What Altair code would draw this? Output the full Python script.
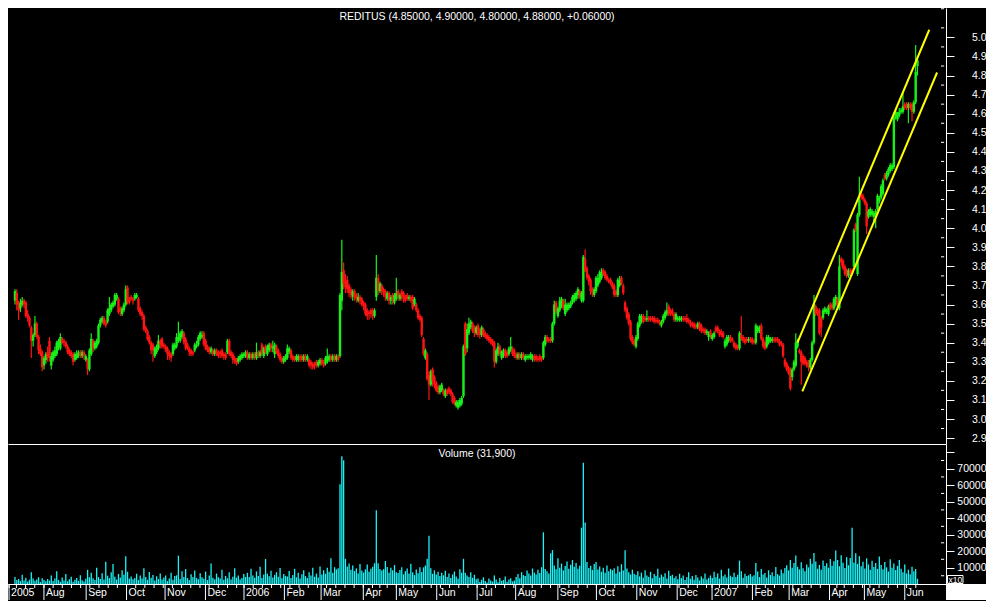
import altair as alt
import pandas as pd

# ---- daily candles per month: (open, close, high, low) in cents, volume (axis units, x10) ----
m0507 = [(362,367,368,360,4200),(366,360,368,357,2500),(361,357,362,352,3100),(358,361,363,356,1800),(360,362,364,359,5600),(362,360,363,358,2200),(361,354,362,353,3800),(355,353,357,351,1500),(353,349,354,348,2600),(348,341,349,332,7200),(341,344,345,338,3300),(344,350,354,343,1900),(350,343,351,342,2800),(343,336,344,334,4100),(337,334,339,333,1200),(335,327,336,325,3500),(328,332,333,326,2400),(331,334,335,329,1600),(335,332,338,330,3000)]
m0508 = [(341,332,343,330,2100),(328,333,335,326,5200),(331,335,336,330,1800),(333,336,338,332,3300),(334,340,341,333,7800),(338,341,342,336,2500),(337,343,345,336,1400),(342,340,343,339,3900),(341,340,342,338,2200),(340,338,341,337,6100),(338,335,339,334,1700),(336,334,337,333,2900),(335,333,336,332,4400),(334,330,335,328,1300),(331,334,335,330,2600),(332,334,336,331,3700),(333,335,336,332,1900),(335,333,336,332,5300),(333,335,336,332,2300),(335,333,336,331,1500),(331,333,334,330,3200),(331,326,332,323,8600),(326,336,337,325,4100)]
m0509 = [(334,342,345,333,6800),(341,337,342,335,3500),(337,340,341,336,2400),(338,341,342,337,9800),(340,349,350,339,4200),(349,352,353,348,3100),(351,353,354,350,6500),(353,350,354,349,2700),(351,349,352,348,13500),(351,357,358,350,5100),(355,358,364,354,3600),(357,360,361,356,7200),(359,361,362,358,12200),(360,365,366,359,4400),(363,365,366,362,2800),(363,356,364,355,6100),(358,356,359,354,3900),(355,358,359,354,8300),(357,360,361,356,5600),(360,368,370,359,16800),(369,361,370,360,7400),(363,361,364,360,3300)]
m0510 = [(364,363,365,362,4600),(363,362,364,360,2900),(363,365,366,362,3700),(364,365,366,363,6200),(363,357,364,356,2400),(358,355,359,354,5100),(356,354,357,352,3300),(354,347,355,346,9600),(348,346,349,345,4200),(346,342,347,341,2600),(343,340,344,339,7300),(340,336,341,334,3800),(339,336,340,330,5500),(333,337,338,332,2100),(335,338,339,334,4700),(337,341,344,336,3000),(341,339,342,337,6400),(342,338,343,337,2700),(339,338,340,337,3900),(338,336,339,335,5200),(337,334,338,331,1800)]
m0511 = [(335,333,336,331,3400),(334,332,335,330,6900),(334,339,340,333,2600),(337,339,340,336,4800),(338,343,345,337,5300),(341,343,351,340,17200),(341,345,346,340,3100),(343,346,347,342,7800),(345,340,346,339,4200),(342,337,343,336,9100),(339,337,340,336,3600),(337,335,338,333,2500),(336,334,337,333,5900),(335,334,336,333,4300),(336,339,340,335,8200),(338,339,341,337,3700),(339,343,344,338,2900),(342,345,346,341,6600),(343,344,346,342,4100),(345,339,346,338,3200),(341,337,342,336,7500),(338,336,339,335,2400)]
m0512 = [(337,335,338,334,5200),(335,337,338,334,12400),(336,334,337,333,3800),(334,336,337,333,2900),(336,334,337,333,6300),(335,333,336,332,4100),(335,334,336,332,3300),(336,333,337,332,8700),(334,333,335,331,2600),(334,332,335,331,4900),(335,341,342,334,3500),(341,334,342,333,7200),(335,333,336,332,2800),(334,331,335,329,4400),(332,330,333,329,9600),(331,329,332,328,3900),(330,332,333,329,5100),(331,333,334,330,2700),(332,334,335,331,3600),(333,334,335,332,6100),(333,335,336,332,4300)]
m0601 = [(335,332,336,331,6800),(332,334,335,331,4200),(334,332,335,331,9300),(332,334,335,331,5100),(334,332,335,331,3800),(332,335,340,331,7600),(335,333,336,332,4900),(333,335,336,332,10400),(339,334,340,333,3600),(333,337,338,332,5800),(338,335,339,334,15200),(334,338,339,333,6300),(336,339,340,335,4700),(339,337,340,335,8100),(337,338,341,335,3900),(334,339,340,332,5500),(338,335,339,334,7200),(336,333,337,332,4400),(334,331,335,330,9700),(332,330,333,329,3500),(330,332,333,329,6100),(331,333,334,330,5000)]
m0602 = [(332,337,339,331,4600),(335,337,338,334,7900),(336,332,337,331,3700),(333,331,334,330,5400),(332,331,333,330,9200),(331,333,334,330,4100),(331,333,334,330,6800),(333,331,334,330,3300),(333,331,334,330,5900),(331,333,334,330,8400),(333,331,334,330,4800),(331,333,334,330,3600),(331,328,332,327,7100),(330,328,331,326,5200),(329,327,330,326,9800),(329,328,330,326,4400),(330,328,331,327,6300),(328,330,331,327,3900),(329,331,332,328,10600),(331,329,332,328,5700)]
m0603 = [(330,328,331,327,8300),(329,332,333,328,6200),(330,333,337,329,9900),(331,333,334,330,7400),(333,331,334,330,15600),(331,333,334,330,6800),(333,331,334,330,10200),(331,333,334,330,8900),(333,331,334,330,9500),(333,365,366,332,60600),(362,377,394,357,77500),(378,371,382,368,75100),(372,369,376,366,15300),(373,368,375,366,10600),(370,366,371,364,12400),(368,365,369,363,8700),(364,367,368,362,11300),(367,364,368,362,7900),(365,363,366,361,9500),(362,364,366,361,6400),(364,362,365,360,12100),(363,360,364,359,8200),(361,359,362,357,7000)]
m0604 = [(360,355,361,354,8900),(357,354,358,352,11800),(356,355,357,352,7400),(357,355,358,353,9300),(357,354,358,352,10500),(354,357,358,353,12600),(364,374,386,362,44800),(374,367,376,365,12600),(367,371,372,366,9100),(370,367,371,365,8200),(368,366,369,364,9000),(367,364,368,362,14000),(363,366,367,362,10300),(366,362,367,360,6900),(362,364,365,360,9800),(365,362,366,360,8400),(361,365,366,360,11500),(363,366,374,362,7200)]
m0605 = [(367,364,368,362,6700),(363,365,366,362,8500),(367,364,368,362,10200),(366,363,367,361,5900),(364,362,365,361,7800),(365,363,366,362,9400),(363,364,365,362,6300),(364,362,365,361,12300),(364,358,365,357,7100),(360,363,364,359,5400),(360,357,361,356,8800),(357,353,358,352,6600),(354,352,355,351,10100),(353,344,354,343,7300),(342,334,343,333,10100),(332,336,337,331,11200),(334,321,335,320,15300),(323,318,325,310,29300),(318,325,326,317,9600),(326,320,327,317,6200),(322,318,323,316,8300),(319,315,320,314,5700)]
m0606 = [(317,314,318,313,7400),(314,317,318,313,4800),(315,318,319,314,6900),(315,313,316,312,5300),(312,315,316,311,8100),(315,313,316,312,4200),(316,314,317,313,6400),(315,313,316,312,3700),(313,309,314,308,5800),(311,308,312,307,7600),(307,309,310,306,4500),(306,309,310,305,3200),(307,310,311,306,9000),(308,311,312,307,6800),(312,338,339,311,15300),(350,334,351,333,6800),(337,347,350,335,5100),(345,350,353,344,4300),(348,351,352,347,7200),(350,346,351,345,3800),(348,345,349,343,5600),(345,348,349,344,2900)]
m0607 = [(349,344,350,343,3400),(347,344,348,342,1200),(344,348,349,343,2600),(347,344,348,343,4100),(345,343,346,342,1800),(344,342,345,341,900),(343,341,344,340,3300),(342,340,343,339,2200),(341,339,342,338,1500),(340,330,341,327,5200),(330,336,337,329,2800),(334,338,340,333,1100),(338,334,339,333,3700),(332,335,336,331,1900),(333,336,337,332,2400),(336,333,337,332,4600),(335,333,336,332,1300),(334,337,338,333,2700),(336,338,343,335,3500),(337,334,338,333,1600),(336,333,337,332,2100)]
m0608 = [(334,332,335,331,4300),(332,334,335,331,6100),(334,332,335,331,3500),(332,334,335,331,7200),(334,332,335,331,5400),(331,333,334,330,4800),(332,333,334,331,8200),(332,333,334,331,6300),(332,334,335,331,5100),(331,333,334,330,9400),(333,331,334,330,7000),(333,331,334,330,5800),(332,331,333,330,8600),(333,331,334,330,6700),(332,331,333,330,10200),(332,340,341,331,31400),(339,343,344,338,9100),(343,341,344,340,7800),(342,341,343,340,6400),(342,341,343,340,18700),(341,350,351,340,20600),(350,360,362,349,11300),(361,356,362,355,8900)]
m0609 = [(354,358,359,353,15700),(357,362,364,356,9800),(359,363,364,358,12400),(362,358,363,357,8300),(355,360,363,354,10900),(357,360,361,356,13600),(358,360,361,357,9200),(359,361,362,358,11700),(361,364,365,360,14500),(362,365,366,361,10400),(363,366,367,362,12800),(365,368,369,363,9300),(367,364,368,363,11100),(362,366,367,361,34200),(362,385,386,361,73600),(384,378,389,377,37300),(379,374,380,373,13400),(375,372,376,370,9700),(373,367,374,365,11100),(368,366,369,364,8600),(365,368,369,364,12200)]
m0610 = [(367,374,375,366,13400),(370,374,376,369,8800),(372,377,378,371,10600),(374,377,379,373,7400),(378,376,379,375,9900),(377,374,378,373,6800),(375,373,376,372,11300),(373,372,374,371,7700),(373,371,374,370,9200),(371,369,372,368,8400),(370,365,371,364,9600),(367,365,368,364,6300),(365,373,374,364,10800),(370,373,375,369,7500),(374,371,375,370,12000),(370,366,371,365,8200),(361,357,362,356,20500),(358,353,359,352,9400),(355,350,356,349,7100),(351,342,352,341,5800),(343,340,344,339,8700),(341,339,342,338,6200)]
m0611 = [(338,343,344,337,5400),(342,350,351,341,7800),(349,354,355,348,4600),(351,354,355,350,6900),(354,351,355,350,3800),(353,352,354,351,8300),(352,353,357,351,5100),(353,352,354,351,4200),(353,352,354,351,7400),(353,352,354,351,3500),(353,351,354,350,6100),(352,351,353,350,4800),(352,351,353,350,9200),(351,350,352,349,3900),(349,351,352,348,5700),(351,354,355,350,4400),(353,356,357,352,6600),(355,357,361,354,3300),(359,355,360,354,8000),(357,355,358,354,4900),(357,355,358,354,5600),(355,352,356,351,3600)]
m0612 = [(352,355,356,351,4700),(352,353,354,351,2900),(352,353,354,351,6200),(352,353,354,351,3600),(353,352,354,351,5100),(353,352,354,351,2400),(353,351,355,350,4300),(352,351,353,350,7100),(351,349,352,348,3200),(350,349,351,348,4800),(350,348,351,347,2600),(349,348,350,347,5500),(348,350,351,347,3900),(350,347,351,346,2200),(349,346,350,345,4600),(347,346,348,345,3400),(347,345,348,344,6300),(345,346,347,344,2800),(343,345,346,341,3700)]
m0701 = [(346,344,347,342,5200),(342,344,345,341,3600),(343,345,346,342,7400),(348,346,349,345,4100),(348,346,349,345,6300),(346,344,347,343,3300),(346,344,347,343,8600),(345,343,346,342,4700),(338,341,342,337,5800),(339,343,344,338,3900),(341,343,344,340,9400),(343,341,344,340,5100),(342,341,343,340,4300),(340,338,341,337,6900),(339,337,340,336,4200),(338,337,339,336,5600),(337,345,346,336,14200),(344,342,354,341,7700),(343,341,344,340,3800),(342,340,343,339,6200),(342,341,343,340,4900),(341,342,343,340,5300)]
m0702 = [(342,341,343,340,6100),(342,340,343,339,4500),(341,340,342,339,5300),(340,349,350,339,12800),(346,348,349,345,7600),(346,348,349,345,4200),(349,342,350,341,9100),(342,338,343,337,5800),(340,337,341,336,6700),(338,343,344,337,4000),(340,343,344,339,8300),(341,342,343,340,5500),(341,342,343,340,7200),(342,341,343,340,4700),(342,341,343,340,10300),(342,341,343,340,6000),(341,339,342,338,5100),(340,339,341,338,8800),(339,333,340,332,6600),(331,328,332,327,9700)]
m0703 = [(329,326,330,325,11400),(327,324,328,323,8300),(326,316,327,315,14600),(322,326,327,320,9800),(326,330,331,325,12700),(328,340,345,327,17300),(338,341,342,337,10500),(336,335,337,334,8900),(335,330,336,318,13200),(333,329,334,328,9600),(332,329,333,328,7800),(330,328,331,327,11800),(330,327,331,325,10100),(327,331,332,326,15400),(331,340,341,330,12300),(340,360,365,339,18800),(359,355,360,354,13700),(357,355,358,354,9300),(357,345,358,344,11600),(353,348,354,343,8700),(353,357,358,352,14300),(356,358,359,355,10900)]
m0704 = [(356,357,358,355,12600),(355,359,360,354,9900),(360,358,361,357,15200),(360,358,361,357,11100),(358,363,364,357,13800),(360,364,365,359,20400),(363,360,364,359,14600),(358,380,386,357,10800),(384,382,385,380,17500),(383,379,384,378,12900),(380,376,381,375,9700),(378,375,379,374,16300),(375,378,379,374,11400),(378,376,379,375,15800),(378,376,379,375,34200),(380,399,400,379,13100),(402,399,403,398,18600),(376,407,408,375,12200),(407,415,427,406,16900)]
m0705 = [(418,416,419,415,10800),(417,415,418,414,13500),(415,413,416,412,9400),(413,401,414,397,15600),(406,409,410,405,11900),(407,410,411,406,8700),(407,409,410,406,14100),(406,408,409,403,10300),(407,409,410,400,12800),(410,417,418,409,9200),(414,416,417,413,16700),(416,422,423,415,11600),(418,425,426,417,8900),(428,426,429,425,13300),(426,429,430,425,10100),(428,431,432,427,7600),(430,433,434,429,15100),(431,433,434,430,9800),(432,458,459,431,12400),(458,461,462,457,8500),(457,460,461,456,11000),(459,461,463,458,14600)]
m0706 = [(461,462,463,460,9300),(461,464,471,460,7200),(465,463,466,462,11800),(465,463,466,462,6400),(463,465,466,455,8700),(465,463,466,462,5900),(465,461,466,456,10400),(461,466,467,460,7700),(466,482,496,465,9100),(485,488,490,480,3190)]

MONTHS = [m0507, m0508, m0509, m0510, m0511, m0512, m0601, m0602, m0603, m0604, m0605, m0606,
          m0607, m0608, m0609, m0610, m0611, m0612, m0701, m0702, m0703, m0704, m0705, m0706]

# trend channel drawn on the chart (day index, price)
chan_upper_idx = [430.9, 503.5]
chan_upper_p = [3.40, 5.04]
chan_lower_idx = [433.6, 507.8]
chan_lower_p = [3.145, 4.816]

HOLIDAYS = ["2005-12-26", "2006-04-14", "2006-04-17", "2006-05-01", "2006-12-25",
            "2006-12-26", "2007-01-01", "2007-04-06", "2007-04-09", "2007-05-01"]

price_ticks = [round(2.9 + 0.1 * k, 1) for k in range(22)]
price_minor = [round(2.95 + 0.1 * k, 2) for k in range(23)]
vol_ticks = [10000 * k for k in range(1, 9)]
vol_minor = [5000 + 10000 * k for k in range(8)]

# ---------------------------------------------------------------------------
rows = [r for m in MONTHS for r in m]
dates = pd.bdate_range("2005-07-05", "2007-06-14", freq="C", holidays=HOLIDAYS)
n = min(len(dates), len(rows))
rows = rows[:n]
dates = dates[:n]

df = pd.DataFrame({
    "idx": list(range(n)),
    "open": [r[0] / 100 for r in rows],
    "close": [r[1] / 100 for r in rows],
    "high": [r[2] / 100 for r in rows],
    "low": [r[3] / 100 for r in rows],
    "vol": [r[4] for r in rows],
})
df["dir"] = ["up" if c >= o else "down" for o, c in zip(df["open"], df["close"])]

# month separators / weekly ticks
mon_rows, week_rows = [], []
for i, d in enumerate(dates):
    if i == 0 or d.month != dates[i - 1].month:
        lab = str(d.year) if (i == 0 or d.month == 1) else d.strftime("%b")
        mon_rows.append({"sx": i - 0.5, "label": lab})
    if i == 0 or d.weekday() < dates[i - 1].weekday():
        week_rows.append({"wx": i - 0.5})
mon_df = pd.DataFrame(mon_rows)
week_df = pd.DataFrame(week_rows)

last = rows[-1]
prev_close = rows[-2][1]
title_txt = "REDITUS ({:.5f}, {:.5f}, {:.5f}, {:.5f}, {:+.5f})".format(
    last[0] / 100, last[2] / 100, last[3] / 100, last[1] / 100, (last[1] - prev_close) / 100)
vol_txt = "Volume ({:,})".format(last[4] * 10)

# ---------------------------------------------------------------------------
W = 938
H_PRICE = 436
H_VOL = 140
H_AX = 16
FULL_W = 978
X0, X1 = -1.08, 509.96
PXI = W / (X1 - X0)
X_END = X0 + FULL_W / PXI
YMIN, YMAX = 2.869, 5.154

GREEN = "#19f019"
RED = "#ff1414"
CYAN = "#18f4f8"
FONT = "Liberation Sans"

xs = alt.Scale(domain=[X0, X1], nice=False, zero=False)
ys = alt.Scale(domain=[YMIN, YMAX], nice=False, zero=False)
vs = alt.Scale(domain=[0, 85000], nice=False, zero=False)

x_line_axis = alt.Axis(labels=False, ticks=False, grid=False, title=None,
                       domainColor="white", domainWidth=1)
color = alt.Color("dir:N", scale=alt.Scale(domain=["up", "down"], range=[GREEN, RED]), legend=None)

price_axis = alt.Axis(orient="right", values=price_ticks, format=".1f", tickSize=8,
                      tickColor="white", domainColor="white", labelColor="white",
                      labelAlign="right", labelBaseline="middle", labelPadding=32,
                      labelFont=FONT, labelFontSize=10.5, grid=False, title=None,
                      labelOverlap=False, labelFlush=False, labelBound=False)

X_P = alt.X("idx:Q", scale=xs, axis=x_line_axis)

base = alt.Chart(df)
wicks = base.mark_rule(strokeWidth=1.2).encode(
    x=X_P,
    y=alt.Y("low:Q", scale=ys, axis=price_axis),
    y2="high:Q",
    color=color,
)
bodies = base.mark_bar(size=2.4).encode(
    x=X_P,
    y=alt.Y("open:Q", scale=ys, axis=price_axis),
    y2="close:Q",
    color=color,
)

chan_df = pd.DataFrame({
    "idx": chan_upper_idx + chan_lower_idx,
    "p": chan_upper_p + chan_lower_p,
    "line": ["upper", "upper", "lower", "lower"],
})
channel = alt.Chart(chan_df).mark_line(color="#ffff00", strokeWidth=2).encode(
    x=X_P,
    y=alt.Y("p:Q", scale=ys, axis=price_axis),
    detail="line:N",
)

pm_df = pd.DataFrame({"p": price_minor, "a": [X1] * len(price_minor),
                      "b": [X1 + 3.2 / PXI] * len(price_minor)})
pm_df = pm_df[(pm_df["p"] > YMIN) & (pm_df["p"] < YMAX)]
price_minor_ticks = alt.Chart(pm_df).mark_rule(color="white", strokeWidth=1).encode(
    x=alt.X("a:Q", scale=xs, axis=x_line_axis), x2="b:Q",
    y=alt.Y("p:Q", scale=ys, axis=price_axis))

title_mark = alt.Chart(pd.DataFrame({"t": [title_txt]})).mark_text(
    color="white", font=FONT, fontSize=10.5, align="center", baseline="middle").encode(
    x=alt.value(W / 2), y=alt.value(9), text="t:N")

price = alt.layer(wicks, bodies, channel, price_minor_ticks, title_mark).properties(
    width=W, height=H_PRICE)

# ---- volume panel ----
vol_axis = alt.Axis(orient="right", values=vol_ticks, format="d", tickSize=8,
                    tickColor="white", domainColor="white", labelColor="white",
                    labelAlign="right", labelBaseline="middle", labelPadding=32,
                    labelFont=FONT, labelFontSize=10.5, grid=False, title=None,
                    labelOverlap=False, labelFlush=False, labelBound=False,
                    labelExpr="datum.value > 75000 ? '' : datum.label")
vbars = alt.Chart(df).mark_bar(size=1.3, color=CYAN).encode(
    x=X_P,
    y=alt.Y("vol:Q", scale=vs, axis=vol_axis),
)
vm_df = pd.DataFrame({"v": vol_minor, "a": [X1] * len(vol_minor),
                      "b": [X1 + 3.2 / PXI] * len(vol_minor)})
vol_minor_ticks = alt.Chart(vm_df).mark_rule(color="white", strokeWidth=1).encode(
    x=alt.X("a:Q", scale=xs, axis=x_line_axis), x2="b:Q",
    y=alt.Y("v:Q", scale=vs, axis=vol_axis))
vol_title = alt.Chart(pd.DataFrame({"t": [vol_txt]})).mark_text(
    color="white", font=FONT, fontSize=10.5, align="center", baseline="middle").encode(
    x=alt.value(W / 2), y=alt.value(10), text="t:N")
x10_box = alt.Chart(pd.DataFrame({"t": ["x10"]})).mark_rect(
    fill="black", stroke="white", strokeWidth=1).encode(
    x=alt.value(W + 1.5), x2=alt.value(W + 17), y=alt.value(H_VOL - 8.5), y2=alt.value(H_VOL - 0.5))
x10_txt = alt.Chart(pd.DataFrame({"t": ["x10"]})).mark_text(
    color="white", font=FONT, fontSize=8.5, align="center", baseline="middle").encode(
    x=alt.value(W + 9.3), y=alt.value(H_VOL - 4.3), text="t:N")

volume = alt.layer(vbars, vol_minor_ticks, vol_title, x10_box, x10_txt).properties(
    width=W, height=H_VOL)

# ---- date strip ----
xs2 = alt.Scale(domain=[X0, X_END], nice=False, zero=False)
white_corner = alt.Chart(pd.DataFrame({"a": [X1], "b": [X_END]})).mark_rect(color="white").encode(
    x=alt.X("a:Q", scale=xs2, axis=None), x2="b:Q", y=alt.value(0), y2=alt.value(H_AX))
seps = alt.Chart(mon_df).mark_rule(color="white", strokeWidth=1).encode(
    x=alt.X("sx:Q", scale=xs2, axis=None), y=alt.value(0), y2=alt.value(H_AX))
weeks = alt.Chart(week_df).mark_rule(color="white", strokeWidth=1).encode(
    x=alt.X("wx:Q", scale=xs2, axis=None), y=alt.value(0), y2=alt.value(4))
mlabels = alt.Chart(mon_df).mark_text(
    color="white", font=FONT, fontSize=10.5, align="left", baseline="middle", dx=2).encode(
    x=alt.X("sx:Q", scale=xs2, axis=None), y=alt.value(H_AX / 2 + 1), text="label:N")
strip = alt.layer(white_corner, seps, weeks, mlabels).properties(width=FULL_W, height=H_AX)

chart = alt.vconcat(price, volume, strip, spacing=0, bounds="flush").resolve_scale(
    x="independent", y="independent").properties(
    background="black", padding=0).configure_view(stroke=None).configure_axis(
    labelOverlap=False)

chart.save("out.html", embed_options={"renderer": "svg", "actions": False})
